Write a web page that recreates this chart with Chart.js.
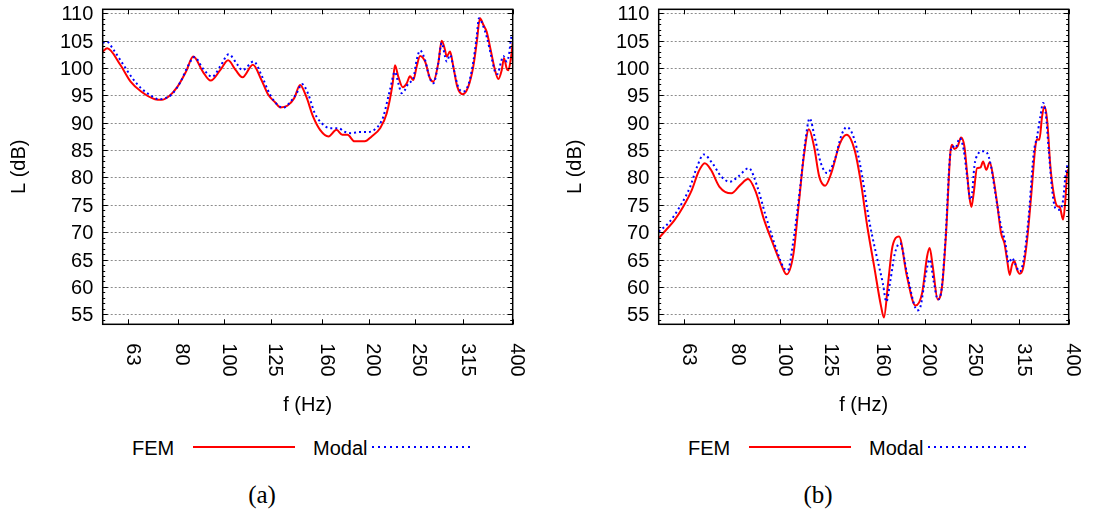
<!DOCTYPE html>
<html>
<head>
<meta charset="utf-8">
<title>FEM vs Modal</title>
<script src="https://cdn.jsdelivr.net/npm/chart.js@4"></script>
<style>
  body { margin: 0; background: #fff; }
  #page { position: relative; width: 1095px; height: 511px; overflow: hidden; font-family: "Liberation Sans", Arial, sans-serif; color: #000; }
  .panel { position: absolute; top: 0; width: 540px; height: 420px; }
  .panel canvas { display: block; }
  .lg { position: absolute; top: 438px; font-size: 20px; line-height: 20px; white-space: nowrap; }
  .swatch { position: absolute; top: 446px; height: 2px; }
  .red { background: #ff0000; }
  .blue { background: repeating-linear-gradient(to right, #0000ff 0 2px, transparent 2px 6px); }
  .cap { position: absolute; top: 484px; width: 100px; text-align: center; font: 25px/22px "Liberation Serif", "Times New Roman", serif; }
</style>
</head>
<body>
<div id="page">
  <div class="panel" style="left:0"><canvas id="chartA" width="540" height="420"></canvas></div>
  <div class="panel" style="left:556px"><canvas id="chartB" width="540" height="420"></canvas></div>

  <div class="lg" style="left:132px">FEM</div>
  <div class="swatch red" style="left:193px;width:102px"></div>
  <div class="lg" style="left:313px">Modal</div>
  <div class="swatch blue" style="left:372px;width:100px"></div>
  <div class="cap" style="left:212px">(a)</div>

  <div class="lg" style="left:688px">FEM</div>
  <div class="swatch red" style="left:749px;width:102px"></div>
  <div class="lg" style="left:869px">Modal</div>
  <div class="swatch blue" style="left:928px;width:100px"></div>
  <div class="cap" style="left:768px">(b)</div>
</div>

<script>
// axis setup (third-octave centre frequencies, log axis)
const xTicks = [63, 80, 100, 125, 160, 200, 250, 315, 400];
const yTicks = [55, 60, 65, 70, 75, 80, 85, 90, 95, 100, 105, 110];
const X_MIN = 55.7, X_MAX = 400;
const Y_MIN = 53.17, Y_MAX = 110.73;

// (a) FEM
const freqA_fem = [55.7, 56.9, 60.6, 63.7, 67.0, 71.6, 74.0, 76.5, 79.7, 83.1, 86.1, 90.2, 93.6, 98.0, 101.8, 105.6, 109.1, 114.7, 119.5, 123.5,
  127.7, 130.9, 135.3, 139.9, 143.9, 148.2, 153.2, 158.4, 165.0, 171.4, 176.3, 180.8, 186.9, 196.4, 203.0, 211.4, 218.2, 224.6, 227.1, 230.8,
  235.7, 240.3, 244.1, 248.0, 252.1, 256.2, 262.4, 268.8, 273.1, 279.7, 284.3, 288.9, 291.2, 295.9, 300.6, 306.4, 314.5, 323.1, 331.0, 336.4,
  341.8, 347.3, 353.0, 359.8, 367.4, 373.3, 379.4, 383.6, 388.6, 391.6, 396.2, 400];
const levelA_fem = [103.0, 103.6, 100.6, 97.5, 95.7, 94.3, 94.2, 94.8, 96.5, 99.3, 102.1, 99.3, 97.7, 99.6, 101.4, 99.6, 98.3, 100.6, 97.8, 95.1,
  93.7, 92.8, 93.1, 94.5, 96.9, 94.8, 91.1, 88.7, 87.5, 88.7, 87.8, 87.8, 86.6, 86.6, 87.5, 89.0, 91.7, 97.2, 100.5, 98.4,
  96.5, 97.2, 98.5, 97.8, 100.3, 102.2, 101.2, 98.1, 97.5, 100.9, 105.0, 103.3, 102.1, 103.0, 100.3, 96.6, 95.2, 96.6, 100.3, 104.6,
  109.1, 107.9, 106.6, 103.3, 99.6, 98.0, 99.6, 101.8, 99.9, 99.6, 101.5, 104.6];

// (a) Modal
const freqA_modal = [55.7, 56.8, 58.7, 61.2, 64.3, 67.0, 70.4, 72.8, 75.2, 77.7, 81.0, 84.2, 86.6, 90.2, 94.3, 98.0, 102.1, 106.5, 109.1, 115.1,
  119.5, 124.6, 129.8, 133.1, 137.6, 142.2, 145.1, 149.4, 154.5, 159.7, 166.4, 173.4, 177.8, 183.8, 191.6, 199.6, 206.4, 211.6, 214.7, 221.7,
  227.1, 230.8, 234.5, 238.3, 242.2, 248.0, 252.1, 256.2, 262.4, 267.8, 273.1, 279.7, 284.3, 288.9, 291.2, 295.9, 301.6, 307.9, 315.4, 323.1,
  331.0, 336.4, 340.1, 347.3, 353.0, 361.6, 367.4, 371.5, 377.6, 382.2, 388.6, 392.9, 396.8, 400];
const levelA_modal = [104.6, 104.8, 103.3, 100.9, 98.1, 96.3, 94.9, 94.3, 94.5, 95.2, 97.5, 100.6, 102.0, 99.9, 98.4, 100.3, 102.5, 100.6, 99.6, 101.2,
  98.7, 95.1, 93.1, 92.8, 93.9, 95.7, 97.1, 95.4, 91.7, 89.9, 89.0, 89.0, 88.4, 88.1, 88.3, 88.3, 88.8, 89.9, 91.1, 96.0,
  99.3, 97.2, 95.4, 96.0, 97.2, 98.1, 101.5, 103.2, 101.5, 98.4, 97.2, 100.9, 104.6, 102.1, 101.2, 102.4, 99.6, 96.5, 95.7, 96.9,
  101.2, 105.7, 109.1, 107.6, 105.7, 101.8, 99.3, 98.9, 100.9, 102.2, 101.2, 102.4, 105.4, 106.0];

// (b) FEM
const freqB_fem = [55.7, 57.7, 60.1, 62.7, 65.3, 67.5, 69.5, 71.6, 74.6, 79.0, 82.4, 85.6, 88.8, 92.5, 96.4, 100.5, 103.0, 106.5, 109.1, 111.9,
  114.7, 117.6, 120.5, 124.0, 127.7, 133.1, 137.6, 142.9, 147.0, 151.9, 157.0, 162.3, 164.5, 167.8, 171.4, 176.9, 183.8, 191.4, 197.7, 202.5,
  205.0, 208.0, 213.1, 217.6, 221.8, 226.4, 228.3, 230.8, 234.5, 238.4, 242.2, 245.4, 248.1, 250.5, 253.3, 257.4, 261.6, 265.0, 269.2, 273.6,
  278.1, 283.5, 289.0, 293.6, 297.4, 301.2, 304.7, 308.1, 312.1, 316.0, 321.2, 327.5, 334.3, 340.8, 343.6, 347.4, 352.0, 355.9, 360.6, 366.3,
  372.1, 378.3, 383.1, 389.4, 393.7, 396.9, 400];
const levelB_fem = [68.9, 70.4, 72.2, 74.7, 77.7, 81.1, 82.6, 81.4, 78.3, 77.1, 78.6, 79.7, 77.4, 72.2, 68.0, 64.0, 62.3, 66.1, 74.7, 83.8,
  88.8, 85.6, 80.2, 78.5, 80.8, 86.2, 87.8, 85.0, 79.5, 71.0, 63.7, 56.4, 54.4, 60.6, 67.4, 69.2, 61.9, 56.6, 58.9, 65.6,
  67.1, 63.8, 57.7, 60.1, 69.8, 84.5, 86.0, 85.2, 85.7, 87.3, 85.7, 80.8, 76.5, 74.6, 77.1, 81.7, 81.8, 82.9, 81.4, 82.8,
  80.2, 75.3, 69.8, 68.0, 65.0, 62.2, 64.1, 64.7, 63.1, 62.4, 63.4, 68.6, 77.1, 85.7, 87.0, 86.9, 91.2, 93.0, 90.5, 82.0,
  77.1, 74.8, 74.6, 72.3, 75.9, 80.8, 81.5];

// (b) Modal
const freqB_modal = [55.7, 58.7, 61.7, 64.8, 67.0, 69.2, 72.1, 75.2, 78.4, 81.7, 85.9, 89.5, 93.3, 98.0, 101.3, 103.5, 106.5, 110.0, 112.8, 115.1,
  117.9, 121.5, 125.2, 129.8, 134.2, 137.6, 142.9, 148.2, 153.2, 158.4, 163.7, 166.4, 169.7, 173.4, 177.8, 183.8, 189.8, 193.0, 196.1, 200.8,
  205.0, 209.0, 213.1, 216.5, 221.1, 225.7, 228.3, 232.0, 236.9, 241.4, 245.4, 249.3, 251.4, 254.1, 258.2, 265.0, 270.1, 275.4, 281.1, 288.0,
  295.0, 299.7, 304.7, 309.6, 316.0, 322.1, 330.0, 338.1, 343.6, 349.1, 353.6, 358.1, 363.3, 369.3, 375.2, 383.1, 389.4, 393.7, 396.9, 400];
const levelB_modal = [70.1, 71.9, 74.7, 78.3, 82.0, 84.2, 82.6, 80.2, 79.2, 80.2, 81.7, 78.3, 72.8, 67.0, 63.7, 63.0, 68.6, 78.3, 86.8, 90.8,
  87.4, 82.6, 80.8, 83.2, 87.8, 89.2, 86.8, 80.2, 72.2, 66.1, 60.6, 57.3, 61.2, 66.1, 68.0, 62.5, 57.1, 55.7, 56.4, 61.9,
  65.0, 61.0, 57.7, 58.9, 68.6, 83.2, 85.7, 85.4, 87.2, 85.1, 80.2, 75.9, 77.1, 82.0, 84.2, 84.8, 84.5, 82.0, 77.1, 71.7,
  68.0, 64.4, 65.3, 64.1, 62.8, 65.0, 72.9, 84.5, 87.5, 91.2, 93.6, 91.8, 85.1, 77.8, 74.4, 74.1, 75.9, 80.2, 82.0, 82.5];

function toPoints(freqs, levels) {
    return freqs.map((f, i) => ({ x: f, y: levels[i] }));
}

// gnuplot-like box: dotted grid, inward tics, rotated x labels, axis titles
const gnuFrame = {
    id: 'gnuFrame',
    beforeDatasetsDraw(chart) {
        const { ctx, chartArea: a, scales: { y } } = chart;
        ctx.save();
        ctx.strokeStyle = '#8c8c8c';
        ctx.lineWidth = 1;
        ctx.setLineDash([2, 2]);
        yTicks.forEach(v => {
            const py = Math.round(y.getPixelForValue(v)) + 0.5;
            ctx.beginPath();
            ctx.moveTo(a.left, py);
            ctx.lineTo(a.right, py);
            ctx.stroke();
        });
        ctx.restore();
    },
    afterDatasetsDraw(chart) {
        const { ctx, chartArea: a, scales: { x, y } } = chart;
        ctx.save();
        ctx.strokeStyle = '#000';
        ctx.lineWidth = 1.5;
        ctx.strokeRect(a.left, a.top, a.right - a.left, a.bottom - a.top);

        ctx.lineWidth = 1;
        ctx.beginPath();
        xTicks.forEach(v => {
            const px = Math.round(x.getPixelForValue(v)) + 0.5;
            ctx.moveTo(px, a.bottom); ctx.lineTo(px, a.bottom - 5);
            ctx.moveTo(px, a.top); ctx.lineTo(px, a.top + 5);
        });
        for (let v = Math.ceil(Y_MIN); v <= Y_MAX; v++) {
            const py = Math.round(y.getPixelForValue(v)) + 0.5;
            const len = v % 5 === 0 ? 5 : 2.5;
            ctx.moveTo(a.left, py); ctx.lineTo(a.left + len, py);
            ctx.moveTo(a.right, py); ctx.lineTo(a.right - len, py);
        }
        ctx.stroke();

        ctx.fillStyle = '#000';
        ctx.font = '20px "Liberation Sans", Arial, sans-serif';

        // y tick labels
        ctx.textAlign = 'right';
        ctx.textBaseline = 'middle';
        yTicks.forEach(v => ctx.fillText(String(v), a.left - 9.4, y.getPixelForValue(v) + 1.5));

        // x tick labels, turned clockwise
        xTicks.forEach(v => {
            ctx.save();
            ctx.translate(x.getPixelForValue(v) + 4, a.bottom + 19);
            ctx.rotate(Math.PI / 2);
            ctx.textAlign = 'left';
            ctx.textBaseline = 'middle';
            ctx.fillText(String(v), 0, 0);
            ctx.restore();
        });

        // axis titles
        ctx.textAlign = 'center';
        ctx.textBaseline = 'middle';
        ctx.fillText('f (Hz)', (a.left + a.right) / 2, 405);
        ctx.save();
        ctx.translate(19, (a.top + a.bottom) / 2);
        ctx.rotate(-Math.PI / 2);
        ctx.fillText('L (dB)', 0, 0);
        ctx.restore();

        ctx.restore();
    }
};

function makeChart(canvasId, fem, modal) {
    const ctx = document.getElementById(canvasId).getContext('2d');
    return new Chart(ctx, {
        type: 'line',
        data: {
            datasets: [{
                label: 'Modal',
                data: modal,
                borderColor: '#0000ff',
                borderWidth: 2,
                borderDash: [2, 3],
                pointRadius: 0,
                cubicInterpolationMode: 'monotone',
                fill: false
            }, {
                label: 'FEM',
                data: fem,
                borderColor: '#ff0000',
                borderWidth: 2,
                pointRadius: 0,
                cubicInterpolationMode: 'monotone',
                fill: false
            }]
        },
        options: {
            responsive: false,
            animation: false,
            events: [],
            layout: { padding: { left: 102.7, right: 27.3, top: 9.3, bottom: 95.7 } },
            plugins: { legend: { display: false }, tooltip: { enabled: false } },
            scales: {
                x: { type: 'logarithmic', min: X_MIN, max: X_MAX, display: false },
                y: { type: 'linear', min: Y_MIN, max: Y_MAX, display: false }
            }
        },
        plugins: [gnuFrame]
    });
}

makeChart('chartA', toPoints(freqA_fem, levelA_fem), toPoints(freqA_modal, levelA_modal));
makeChart('chartB', toPoints(freqB_fem, levelB_fem), toPoints(freqB_modal, levelB_modal));
</script>
</body>
</html>
